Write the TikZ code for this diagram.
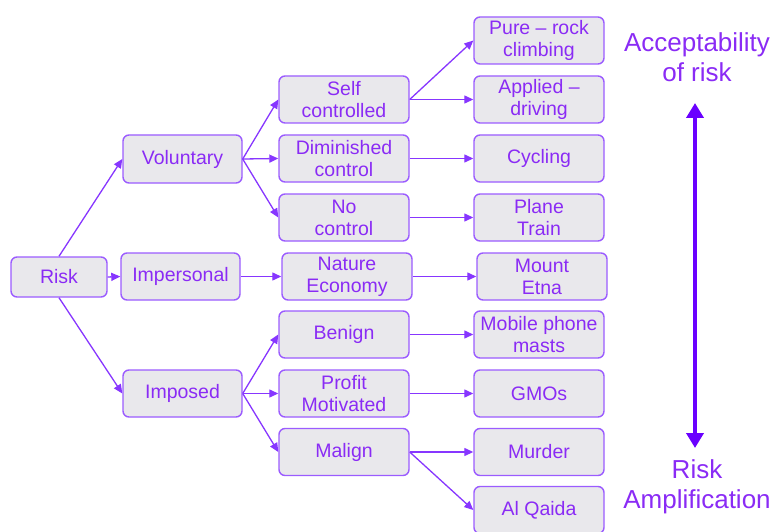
\documentclass[tikz,border=0pt]{standalone}
\usepackage{fontspec}
\setmainfont{Liberation Sans}
\usetikzlibrary{arrows.meta}
\definecolor{boxline}{HTML}{9B5CFF}
\definecolor{boxfill}{HTML}{E9E8EC}
\definecolor{txt}{HTML}{8A2BF5}
\definecolor{link}{HTML}{8736FF}
\definecolor{axis}{HTML}{6A00FF}
\tikzset{
  box/.style={draw=boxline, fill=boxfill, line width=1.4pt, rounded corners=6pt,
    minimum width=130pt, minimum height=47pt, inner sep=0pt, align=center,
    text=txt, font=\fontsize{19.5}{22}\selectfont},
  link/.style={draw=link, line width=1.3pt, -{Triangle[length=9pt,width=8pt]}},
  label/.style={text=txt, align=center, font=\fontsize{26}{30}\selectfont}
}
\begin{document}
\begin{tikzpicture}[x=1pt,y=-1pt]
\useasboundingbox (0,0) rectangle (776,532);
% first level
\node[box, minimum width=96pt, minimum height=40pt] (risk) at (59,277) {Risk};
% second level
\node[box, minimum width=119pt, minimum height=48pt] (vol) at (182.5,159) {Voluntary};
\node[box, minimum width=119pt, minimum height=47pt] (imp) at (180.5,276.5) {Impersonal};
\node[box, minimum width=119pt, minimum height=47pt] (imposed) at (182.5,393.5) {Imposed};
% third level
\node[box] (self) at (344,99.5) {Self\\controlled};
\node[box] (dim) at (344,158.5) {Diminished\\control};
\node[box] (noc) at (344,217.5) {No\\control};
\node[box] (nat) at (347,276.5) {Nature\\Economy};
\node[box] (ben) at (344,334.5) {Benign};
\node[box] (prof) at (344,393.5) {Profit\\Motivated};
\node[box] (mal) at (344,452) {Malign};
% examples
\node[box] (pure) at (539,40.5) {Pure -- rock\\climbing};
\node[box] (appl) at (539,99.5) {Applied --\\driving};
\node[box] (cyc) at (539,158.5) {Cycling};
\node[box] (plane) at (539,217.5) {Plane\\Train};
\node[box] (etna) at (542,276.5) {Mount\\Etna};
\node[box] (mob) at (539,334.5) {Mobile phone\\masts};
\node[box] (gmo) at (539,393.5) {GMOs};
\node[box] (murd) at (539,452) {Murder};
\node[box] (qaida) at (539,510) {Al Qaida};
% connectors
\draw[link] (risk.north) -- (vol.west);
\draw[link] (risk.east) -- (imp.west);
\draw[link] (risk.south) -- (imposed.west);
\draw[link] (vol.east) -- (self.west);
\draw[link] (vol.east) -- (dim.west);
\draw[link] (vol.east) -- (noc.west);
\draw[link] (imp.east) -- (nat.west);
\draw[link] (imposed.east) -- (ben.west);
\draw[link] (imposed.east) -- (prof.west);
\draw[link] (imposed.east) -- (mal.west);
\draw[link] (self.east) -- (pure.west);
\draw[link] (self.east) -- (appl.west);
\draw[link] (dim.east) -- (cyc.west);
\draw[link] (noc.east) -- (plane.west);
\draw[link] (nat.east) -- (etna.west);
\draw[link] (ben.east) -- (mob.west);
\draw[link] (prof.east) -- (gmo.west);
\draw[link] (mal.east) -- (murd.west);
\draw[link] (mal.east) -- (qaida.west);
% scale on the right
\node[label] (acc) at (697,57) {Acceptability\\of risk};
\node[label] (amp) at (697,487) {Risk\\Amplification};
\coordinate (top) at (695,103);
\coordinate (bot) at (695,448);
\draw[axis, line width=4.5pt, {Triangle[length=15pt,width=17pt]}-{Triangle[length=15pt,width=17pt]}] (top) -- (bot);
\end{tikzpicture}
\end{document}
